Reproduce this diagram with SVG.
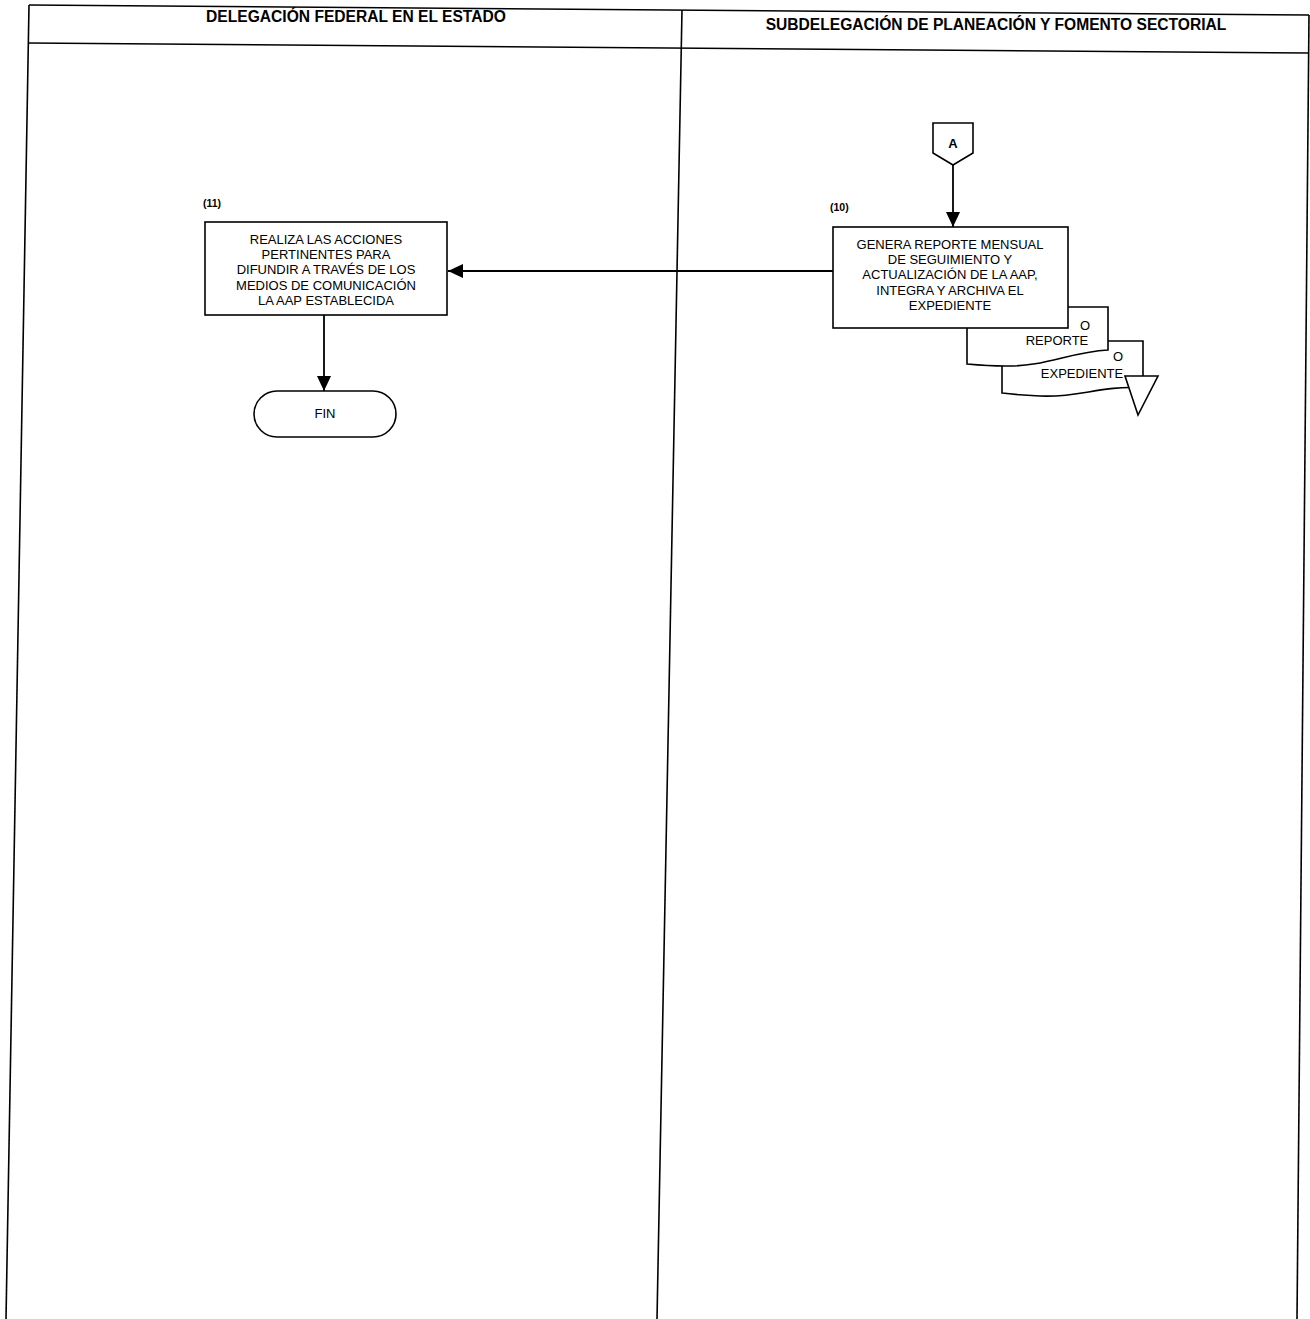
<svg xmlns="http://www.w3.org/2000/svg" width="1310" height="1319" viewBox="0 0 1310 1319">
<style>
.frame{stroke:#000;stroke-width:1.6;fill:none}
.shape{stroke:#000;stroke-width:1.6;fill:#fff}
.conn{stroke:#000;stroke-width:1.8;fill:none}
.hdr{font-family:"Liberation Sans",Arial,sans-serif;font-weight:bold;font-size:15.6px;fill:#000;text-anchor:middle}
.t{font-family:"Liberation Sans",Arial,sans-serif;font-size:13px;fill:#000;text-anchor:middle}
.lbl{font-family:"Liberation Sans",Arial,sans-serif;font-size:10.5px;font-weight:bold;fill:#000}
</style>
<defs>
<marker id="arr" viewBox="0 0 10 10" refX="10" refY="5" markerWidth="15" markerHeight="14" markerUnits="userSpaceOnUse" orient="auto" preserveAspectRatio="none">
<path d="M0,0 L10,5 L0,10 Z" fill="#000"/>
</marker>
</defs>
<rect width="1310" height="1319" fill="#fff"/>
<g id="lanes">
<line class="frame" x1="29" y1="5" x2="1309" y2="15"/>
<line class="frame" x1="29" y1="43" x2="1309" y2="53"/>
<line class="frame" x1="29" y1="5" x2="6" y2="1319"/>
<line class="frame" x1="682" y1="10" x2="657" y2="1319"/>
<line class="frame" x1="1309" y1="15" x2="1297" y2="1319"/>
<text class="hdr" x="356" y="22">DELEGACIÓN FEDERAL EN EL ESTADO</text>
<text class="hdr" x="996" y="30">SUBDELEGACIÓN DE PLANEACIÓN Y FOMENTO SECTORIAL</text>
</g>
<g id="connectors">
<line class="conn" x1="953" y1="165" x2="953" y2="227" marker-end="url(#arr)"/>
<line class="conn" x1="833" y1="271" x2="448" y2="271" marker-end="url(#arr)"/>
<line class="conn" x1="324" y1="315" x2="324" y2="391" marker-end="url(#arr)"/>
</g>
<g id="conector-A">
<path class="shape" d="M933,123 L973,123 L973,153 L953,165 L933,153 Z"/>
<text class="t" x="953" y="148" font-weight="bold" font-size="11.5">A</text>
</g>
<g id="doc-expediente">
<path class="shape" d="M1002,341 L1143,341 L1143,388 C1100,385 1080,398 1040,396 C1020,395 1010,394 1002,393 Z"/>
<text class="t" x="1082" y="378">EXPEDIENTE</text>
<text class="t" x="1118" y="361">O</text>
</g>
<g id="doc-reporte">
<path class="shape" d="M967,307 L1108,307 L1108,350 C1070,352 1045,367 1005,366 C990,366 978,365 967,364 Z"/>
<text class="t" x="1057" y="345">REPORTE</text>
<text class="t" x="1085" y="330">O</text>
</g>
<g id="archivo">
<path class="shape" d="M1125,376 L1158,376 L1138,415 Z"/>
</g>
<g id="paso-10">
<rect class="shape" x="833" y="227" width="235" height="101"/>
<text class="lbl" x="830" y="211">(10)</text>
<text class="t" x="950" y="249">GENERA REPORTE MENSUAL</text>
<text class="t" x="950" y="264">DE SEGUIMIENTO Y</text>
<text class="t" x="950" y="279">ACTUALIZACIÓN DE LA AAP,</text>
<text class="t" x="950" y="295">INTEGRA Y ARCHIVA EL</text>
<text class="t" x="950" y="310">EXPEDIENTE</text>
</g>
<g id="paso-11">
<rect class="shape" x="205" y="222" width="242" height="93"/>
<text class="lbl" x="203" y="207">(11)</text>
<text class="t" x="326" y="244">REALIZA LAS ACCIONES</text>
<text class="t" x="326" y="259">PERTINENTES PARA</text>
<text class="t" x="326" y="274">DIFUNDIR A TRAVÉS DE LOS</text>
<text class="t" x="326" y="290">MEDIOS DE COMUNICACIÓN</text>
<text class="t" x="326" y="305">LA AAP ESTABLECIDA</text>
</g>
<g id="fin">
<rect class="shape" x="254" y="391" width="142" height="46" rx="23" ry="23"/>
<text class="t" x="325" y="418" font-size="12">FIN</text>
</g>
</svg>
